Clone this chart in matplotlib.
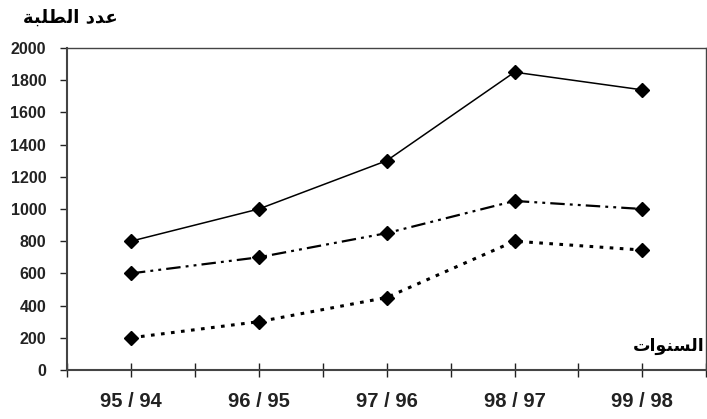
import numpy as np
import matplotlib.pyplot as plt

years = ["95 / 94", "96 / 95", "97 / 96", "98 / 97", "99 / 98"]
solid_vals = [800, 1000, 1300, 1850, 1740]
dashdot_vals = [600, 700, 850, 1050, 1000]
dotted_vals = [200, 300, 450, 800, 745]
y_ticks = [0, 200, 400, 600, 800, 1000, 1200, 1400, 1600, 1800, 2000]

# Arabic labels in presentation forms (visual order) since matplotlib does no shaping
ylabel_txt = "\uFE94\uFE92\uFEE0\uFEC4\uFEDF\uFE8D \uFEA9\uFEAA\uFECB"   # عدد الطلبة
xlabel_txt = "\uFE95\uFE8D\uFEEE\uFEE8\uFEB4\uFEDF\uFE8D"               # السنوات

plt.rcParams['font.family'] = ['Liberation Sans', 'DejaVu Sans']

fig = plt.figure(figsize=(7.07, 4.19), dpi=100)
ax = fig.add_axes([0.0948, 0.117, 0.9042, 0.7684])

x = np.arange(len(years))
mk = dict(marker='D', markersize=7, markerfacecolor='black', markeredgecolor='black', color='black')
ax.plot(x, solid_vals, linestyle='-', linewidth=1.1, **mk)
ax.plot(x, dashdot_vals, linestyle=(0, (6.5, 2.3, 1.3, 2.3, 1.3, 2.3)), linewidth=1.6, **mk)
ax.plot(x, dotted_vals, linestyle=(0, (1.2, 2.1)), linewidth=2.2, **mk)

ax.set_xlim(-0.5, len(years) - 0.5)
ax.set_ylim(0, 2000)
ax.set_yticks(y_ticks)
ax.set_yticklabels([str(v) for v in y_ticks], fontsize=11.5, fontweight='bold')
ax.set_xticks(x)
ax.set_xticklabels(years, fontsize=14.5, fontweight='bold')
ax.set_xticks(np.arange(-0.5, len(years), 1.0), minor=True)

ax.tick_params(axis='y', direction='out', length=5, width=1, pad=10, colors='#222222')
ax.tick_params(axis='x', which='both', direction='inout', length=10, width=1, pad=11, colors='#222222')

for s in ax.spines.values():
    s.set_color('#444444')
    s.set_linewidth(1.0)
ax.spines['left'].set_linewidth(1.5)
ax.spines['bottom'].set_linewidth(1.5)

fig.text(0.033, 0.958, ylabel_txt, fontsize=13, fontweight='bold', ha='left', va='center',
         family=['DejaVu Sans'])
ax.text(0.998, 0.075, xlabel_txt, transform=ax.transAxes, fontsize=12.5, fontweight='bold',
        ha='right', va='center', family=['DejaVu Sans'])

fig.savefig("out.png", dpi=100)
